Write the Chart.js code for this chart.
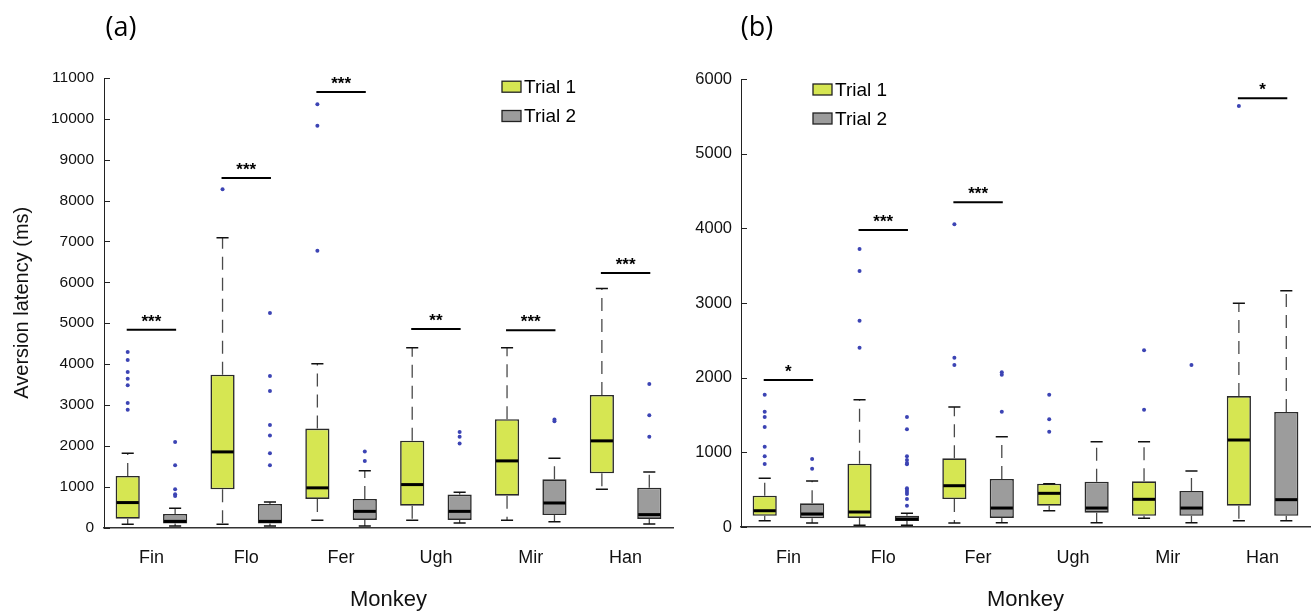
<!DOCTYPE html>
<html><head><meta charset="utf-8">
<script src="https://cdn.jsdelivr.net/npm/chart.js@4.4.1/dist/chart.umd.min.js"></script>
<style>
html,body{margin:0;padding:0;background:#fff;width:1312px;height:613px;overflow:hidden}
#ca{position:absolute;left:0;top:0}
#cb{position:absolute;left:680px;top:0}
</style></head><body>
<canvas id="ca" width="680" height="613"></canvas>
<canvas id="cb" width="632" height="613"></canvas>
<script>
const categories = ['Fin','Flo','Fer','Ugh','Mir','Han'];
const seriesNames = ['Trial 1','Trial 2'];
const xTitle = 'Monkey';
const yTitle = 'Aversion latency (ms)';

// ---- Panel (a) ----
const a_t1_q1  = [215, 935, 700, 535, 780, 1325];
const a_t1_q3  = [1260, 3740, 2420, 2125, 2650, 3245];
const a_t1_med = [610, 1850, 970, 1050, 1630, 2120];
const a_t1_lo  = [80, 80, 175, 175, 175, 935];
const a_t1_hi  = [1820, 7090, 4010, 4400, 4400, 5850];
const a_t1_out = [[4295,4100,3805,3640,3480,3045,2880],[8280],[10360,9830,6770],[],[],[]];
const a_t2_q1  = [100, 100, 185, 185, 305, 210];
const a_t2_q3  = [330, 575, 700, 805, 1180, 975];
const a_t2_med = [150, 150, 395, 395, 600, 315];
const a_t2_lo  = [35, 35, 35, 110, 140, 85];
const a_t2_hi  = [470, 625, 1390, 865, 1695, 1360];
const a_t2_out = [[2090,1525,935,815,770],[5250,3705,3340,2510,2250,1820,1525],[1860,1630],[2335,2220,2055],[2600,2640],[3510,2750,2220]];
const a_sigLabels = ['***','***','***','**','***','***'];
const a_sigLevels = [4840, 8550, 10660, 4860, 4830, 6230];
const a_yMax = 11000;

// ---- Panel (b) ----
const b_t1_q1  = [151, 121, 375, 286, 151, 286];
const b_t1_q3  = [419, 848, 920, 580, 612, 1754];
const b_t1_med = [218, 201, 553, 451, 371, 1165];
const b_t1_lo  = [85, 22, 54, 219, 116, 85];
const b_t1_hi  = [652, 1705, 1607, 580, 1143, 2996];
const b_t1_out = [[1772,1544,1473,1339,1076,947,844],[3723,3428,2763,2401],[4054,2267,2170],[1772,1442,1277],[2366,1571],[5638]];
const b_t2_q1  = [116, 80, 121, 192, 151, 151];
const b_t2_q3  = [317, 151, 643, 607, 482, 1540];
const b_t2_med = [174, 107, 254, 254, 254, 366];
const b_t2_lo  = [54, 22, 58, 58, 58, 85];
const b_t2_hi  = [616, 183, 1210, 1143, 750, 3165];
const b_t2_out = [[911,781],[1473,1308,947,897,857,840,518,495,469,442,375,285],[2072,2040,1544],[],[2170],[]];
const b_sigLabels = ['*','***','***','','','*'];
const b_sigLevels = [1969, 3977, 4348, null, null, 5741];
const b_yMax = 6000;

const FONT = "'Liberation Sans', Arial, Helvetica, sans-serif";
const COL_T1 = 'rgb(214,230,82)';
const COL_T2 = 'rgb(156,156,156)';

const boxPlugin = {
  id: 'boxExtras',
  afterDatasetsDraw(chart) {
    const o = chart.options.plugins.boxExtras;
    const ys = chart.scales.y, ctx = chart.ctx;
    o.series.forEach((s, i) => {
      const meta = chart.getDatasetMeta(i);
      meta.data.forEach((bar, j) => {
        const x = bar.x, hw = bar.width / 2;
        const pq1 = ys.getPixelForValue(s.q1[j]);
        const pq3 = ys.getPixelForValue(s.q3[j]);
        const pmed = ys.getPixelForValue(s.med[j]);
        const plo = ys.getPixelForValue(s.lo[j]);
        const phi = ys.getPixelForValue(s.hi[j]);
        ctx.save();
        ctx.strokeStyle = '#4a4a4a'; ctx.lineWidth = 1.3; ctx.setLineDash([13, 8]);
        if (phi < pq3 - 1) { ctx.beginPath(); ctx.moveTo(x, pq3); ctx.lineTo(x, phi); ctx.stroke(); }
        if (plo > pq1 + 1) { ctx.beginPath(); ctx.moveTo(x, pq1); ctx.lineTo(x, plo); ctx.stroke(); }
        ctx.setLineDash([]);
        ctx.strokeStyle = '#111'; ctx.lineWidth = 1.5;
        ctx.beginPath();
        ctx.moveTo(x - hw / 2, phi); ctx.lineTo(x + hw / 2, phi);
        ctx.moveTo(x - hw / 2, plo); ctx.lineTo(x + hw / 2, plo);
        ctx.stroke();
        ctx.strokeStyle = '#000'; ctx.lineWidth = 3;
        ctx.beginPath(); ctx.moveTo(x - hw + 1, pmed); ctx.lineTo(x + hw - 1, pmed); ctx.stroke();
        ctx.fillStyle = 'rgb(60,68,180)';
        s.out[j].forEach(v => {
          ctx.beginPath(); ctx.arc(x, ys.getPixelForValue(v), 2, 0, Math.PI * 2); ctx.fill();
        });
        ctx.restore();
      });
    });
  },
  afterDraw(chart) {
    const o = chart.options.plugins.boxExtras;
    const ys = chart.scales.y, ctx = chart.ctx, area = chart.chartArea;
    ctx.save();
    // inner y ticks
    ctx.strokeStyle = '#222'; ctx.lineWidth = 1;
    ys.ticks.forEach(t => {
      const py = Math.round(ys.getPixelForValue(t.value)) + 0.5;
      ctx.beginPath(); ctx.moveTo(area.left, py); ctx.lineTo(area.left + 6, py); ctx.stroke();
    });
    // significance bars
    const m1 = chart.getDatasetMeta(0), m2 = chart.getDatasetMeta(1);
    o.sigLabels.forEach((lab, j) => {
      if (!lab) return;
      const py = ys.getPixelForValue(o.sigLevels[j]);
      const x1 = m1.data[j].x - 1, x2 = m2.data[j].x + 1;
      ctx.strokeStyle = '#000'; ctx.lineWidth = 2;
      ctx.beginPath(); ctx.moveTo(x1, py); ctx.lineTo(x2, py); ctx.stroke();
      ctx.fillStyle = '#000'; ctx.font = 'bold 17px ' + FONT;
      ctx.textAlign = 'center'; ctx.textBaseline = 'alphabetic';
      ctx.fillText(lab, (x1 + x2) / 2, py - 3);
    });
    // legend
    const lg = o.legend;
    chart.data.datasets.forEach((ds, i) => {
      const cy = lg.y + i * lg.dy;
      const lx = area.left + lg.x;
      ctx.fillStyle = ds.backgroundColor;
      ctx.fillRect(lx, cy - 5.5, 19, 11);
      ctx.strokeStyle = '#222'; ctx.lineWidth = 1.3;
      ctx.strokeRect(lx, cy - 5.5, 19, 11);
      ctx.fillStyle = '#000'; ctx.font = '19px ' + FONT;
      ctx.textAlign = 'left'; ctx.textBaseline = 'middle';
      ctx.fillText(ds.label, lx + 22, cy + 1);
    });
    // panel label
    ctx.fillStyle = '#000'; ctx.font = "27px 'Open Sans', " + FONT;
    ctx.textAlign = 'center'; ctx.textBaseline = 'middle';
    ctx.fillText(o.panel, o.panelX, 28);
    ctx.restore();
  }
};

function makeChart(id, d) {
  return new Chart(document.getElementById(id), {
    type: 'bar',
    data: {
      labels: categories,
      datasets: [
        { label: seriesNames[0], data: categories.map((c, j) => [d.t1.q1[j], d.t1.q3[j]]),
          backgroundColor: COL_T1, borderColor: '#2a2a2a', borderWidth: 1.6, borderSkipped: false,
          categoryPercentage: 1.0, barPercentage: 0.51 },
        { label: seriesNames[1], data: categories.map((c, j) => [d.t2.q1[j], d.t2.q3[j]]),
          backgroundColor: COL_T2, borderColor: '#2a2a2a', borderWidth: 1.6, borderSkipped: false,
          categoryPercentage: 1.0, barPercentage: 0.51 }
      ]
    },
    options: {
      responsive: false, animation: false, devicePixelRatio: 1,
      layout: { padding: { top: d.padTop, right: d.padRight, left: 0, bottom: 0 } },
      plugins: {
        legend: { display: false }, tooltip: { enabled: false },
        boxExtras: { series: [d.t1, d.t2], sigLabels: d.sigLabels, sigLevels: d.sigLevels,
          legend: d.legend, panel: d.panel, panelX: d.panelX }
      },
      scales: {
        x: {
          grid: { display: true, drawOnChartArea: false, drawTicks: false },
          border: { display: true, color: '#333', width: 1.5 },
          ticks: { color: '#111', font: { family: FONT, size: 18 }, padding: 20 },
          title: { display: true, text: xTitle, color: '#111', font: { family: FONT, size: 22 }, padding: { top: 0, bottom: 0 } },
          afterFit: s => { s.height = d.xH; }
        },
        y: {
          min: 0, max: d.yMax,
          grid: { display: true, drawOnChartArea: false, drawTicks: false },
          border: { display: true, color: '#222', width: 1 },
          ticks: { stepSize: 1000, color: '#111', font: { family: FONT, size: d.yFont }, padding: d.yPad,
                   callback: v => String(v) },
          title: { display: d.showY, text: yTitle, color: '#111', font: { family: FONT, size: 20 }, padding: { top: 10, bottom: 0 } },
          afterFit: s => { s.width = d.yW; }
        }
      }
    },
    plugins: [boxPlugin]
  });
}

makeChart('ca', {
  t1: { q1: a_t1_q1, q3: a_t1_q3, med: a_t1_med, lo: a_t1_lo, hi: a_t1_hi, out: a_t1_out },
  t2: { q1: a_t2_q1, q3: a_t2_q3, med: a_t2_med, lo: a_t2_lo, hi: a_t2_hi, out: a_t2_out },
  sigLabels: a_sigLabels, sigLevels: a_sigLevels, yMax: a_yMax,
  padTop: 78, padRight: 7, xH: 85.5, yW: 104, yFont: 15.5, yPad: 10, showY: true,
  legend: { x: 398, y: 86.7, dy: 29.3 }, panel: '(a)', panelX: 121
});
makeChart('cb', {
  t1: { q1: b_t1_q1, q3: b_t1_q3, med: b_t1_med, lo: b_t1_lo, hi: b_t1_hi, out: b_t1_out },
  t2: { q1: b_t2_q1, q3: b_t2_q3, med: b_t2_med, lo: b_t2_lo, hi: b_t2_hi, out: b_t2_out },
  sigLabels: b_sigLabels, sigLevels: b_sigLevels, yMax: b_yMax,
  padTop: 79, padRight: 2, xH: 86, yW: 61, yFont: 16.5, yPad: 9, showY: false,
  legend: { x: 72, y: 89.5, dy: 29 }, panel: '(b)', panelX: 77
});
</script>
</body></html>
